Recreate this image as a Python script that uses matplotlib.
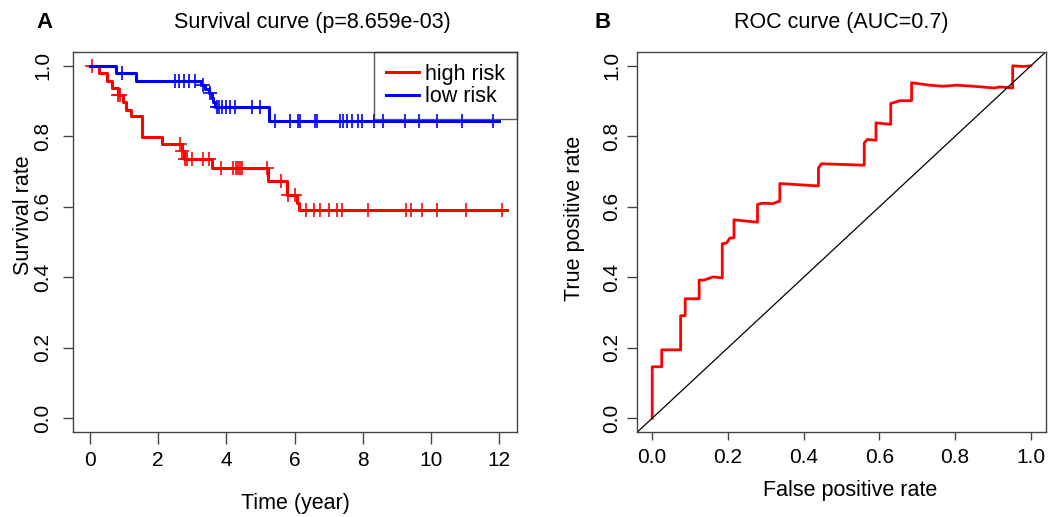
import numpy as np
import matplotlib
matplotlib.use("Agg")
import matplotlib.pyplot as plt

plt.rcParams['font.family'] = ['Liberation Sans', 'DejaVu Sans']

# Kaplan-Meier curves (time in years)
high_end = 12.22
high_event_t = [0.27, 0.49, 0.64, 0.81, 0.98, 1.07, 1.20, 1.52, 2.10, 2.69, 2.75,
                3.59, 5.23, 5.77, 6.06, 6.12]
high_event_s = [0.979, 0.958, 0.938, 0.917, 0.896, 0.875, 0.857, 0.797, 0.778, 0.757,
                0.736, 0.710, 0.673, 0.633, 0.612, 0.592]
high_censor_t = [0.07, 0.83, 0.88, 2.63, 2.70, 2.79, 2.84, 2.98, 3.32, 3.49, 3.83,
                 4.20, 4.27, 4.33, 4.40, 4.47, 5.18, 5.59, 5.82, 6.01, 6.32, 6.58,
                 6.74, 7.01, 7.23, 7.40, 8.16, 9.26, 9.40, 9.75, 10.17, 11.02, 12.09]

low_end = 12.0
low_event_t = [0.76, 1.34, 3.25, 3.36, 3.49, 3.57, 3.62, 3.66, 5.26]
low_event_s = [0.980, 0.958, 0.946, 0.934, 0.922, 0.909, 0.897, 0.884, 0.844]
low_censor_t = [0.93, 2.49, 2.61, 2.77, 2.91, 3.08, 3.30, 3.52, 3.71, 3.78, 3.86,
                3.98, 4.11, 4.25, 4.74, 4.99, 5.43, 5.87, 6.09, 6.16, 6.60, 6.65,
                7.33, 7.41, 7.53, 7.69, 7.85, 7.98, 8.33, 8.58, 9.24, 9.66, 10.17,
                10.92, 11.83]

# ROC curve
fpr = [0, 0, 0.025, 0.025, 0.075, 0.075, 0.087, 0.087, 0.124, 0.124, 0.137, 0.161,
       0.185, 0.185, 0.196, 0.205, 0.216, 0.216, 0.278, 0.278, 0.292, 0.318, 0.337,
       0.337, 0.439, 0.439, 0.447, 0.560, 0.560, 0.568, 0.591, 0.591, 0.630, 0.630,
       0.654, 0.685, 0.685, 0.733, 0.768, 0.804, 0.848, 0.903, 0.918, 0.952, 0.952,
       0.980, 1.0]
tpr = [0, 0.146, 0.146, 0.194, 0.194, 0.291, 0.291, 0.339, 0.339, 0.392, 0.392, 0.401,
       0.398, 0.495, 0.497, 0.511, 0.512, 0.563, 0.556, 0.607, 0.610, 0.609, 0.616,
       0.666, 0.659, 0.710, 0.722, 0.718, 0.781, 0.791, 0.789, 0.838, 0.834, 0.893,
       0.901, 0.901, 0.952, 0.945, 0.942, 0.945, 0.942, 0.937, 0.940, 0.937, 1.0,
       0.998, 1.0]

FS = 15.5
FRAME = '#444444'


def km_plot(ax, ev_t, ev_s, cens_t, t_end, color, label):
    x = np.r_[0, ev_t, t_end]
    y = np.r_[1, ev_s, ev_s[-1]]
    ax.step(x, y, where='post', color=color, lw=2.2, label=label)
    # censor marks sit on the curve
    idx = np.searchsorted(x, cens_t, side='right') - 1
    ax.plot(cens_t, y[idx], ls='none', marker='+', ms=10, mew=1.2, color=color)


def style_axes(ax, ypad):
    for s in ax.spines.values():
        s.set_color(FRAME)
        s.set_linewidth(1.0)
    ax.tick_params(axis='both', colors=FRAME, labelcolor='black', labelsize=FS - 0.5,
                   width=1.0)
    ax.tick_params(axis='x', length=8.5, pad=5)
    ax.tick_params(axis='y', length=7.2, pad=ypad)
    for lab in ax.get_yticklabels():
        lab.set_rotation(90)
        lab.set_va('center')


fig = plt.figure(figsize=(10.57, 5.17), dpi=100)
ax1 = fig.add_axes([73.3 / 1057, 1 - 432.3 / 517, 444 / 1057, 380.6 / 517])
ax2 = fig.add_axes([636.7 / 1057, 1 - 432.3 / 517, 409.3 / 1057, 380.6 / 517])

# survival panel
km_plot(ax1, high_event_t, high_event_s, high_censor_t, high_end, 'red', 'high risk')
km_plot(ax1, low_event_t, low_event_s, low_censor_t, low_end, 'blue', 'low risk')
ax1.set_xlim(-0.49, 12.53)
ax1.set_ylim(-0.04, 1.04)
ax1.set_xticks(range(0, 13, 2))
ax1.set_yticks(np.arange(0, 1.01, 0.2))
ax1.set_yticklabels(['%.1f' % v for v in np.arange(0, 1.01, 0.2)])
style_axes(ax1, 8)
ax1.set_xlabel('Time (year)', fontsize=FS)
ax1.set_ylabel('Survival rate', fontsize=FS)
ax1.xaxis.set_label_coords(0.5, -0.188)
ax1.xaxis.label.set_va('center')
ax1.yaxis.set_label_coords(-0.113, 0.571)
ax1.yaxis.label.set_va('center')
ax1.set_title('Survival curve (p=8.659e-03)', fontsize=FS, x=0.5376, y=1.078,
              va='center', pad=0)
leg = ax1.legend(loc='upper right', fontsize=FS, borderaxespad=0, fancybox=False,
                 handlelength=1.55, handletextpad=0.3, borderpad=0.55,
                 labelspacing=0.08)
leg.get_frame().set_facecolor('none')
leg.get_frame().set_edgecolor('#333333')
leg.get_frame().set_linewidth(1.0)

# ROC panel
ax2.plot(fpr, tpr, color='red', lw=2.0)
ax2.axline((0, 0), (1, 1), color='black', lw=0.9)
ax2.set_xlim(-0.041, 1.04)
ax2.set_ylim(-0.04, 1.04)
ticks = np.arange(0, 1.01, 0.2)
ax2.set_xticks(ticks)
ax2.set_xticklabels(['%.1f' % v for v in ticks])
ax2.set_yticks(ticks)
ax2.set_yticklabels(['%.1f' % v for v in ticks])
style_axes(ax2, 4)
ax2.tick_params(axis='x', length=6)
ax2.set_xlabel('False positive rate', fontsize=FS)
ax2.set_ylabel('True positive rate', fontsize=FS)
ax2.xaxis.set_label_coords(0.521, -0.152)
ax2.xaxis.label.set_va('center')
ax2.yaxis.set_label_coords(-0.151, 0.562)
ax2.yaxis.label.set_va('center')
ax2.set_title('ROC curve (AUC=0.7)', fontsize=FS, x=0.5, y=1.078, va='center', pad=0)

fig.text(44 / 1057, 1 - 22 / 517, 'A', fontsize=16, weight='bold', ha='center', va='center')
fig.text(603 / 1057, 1 - 22 / 517, 'B', fontsize=16, weight='bold', ha='center', va='center')

fig.savefig('out.png', dpi=100)
